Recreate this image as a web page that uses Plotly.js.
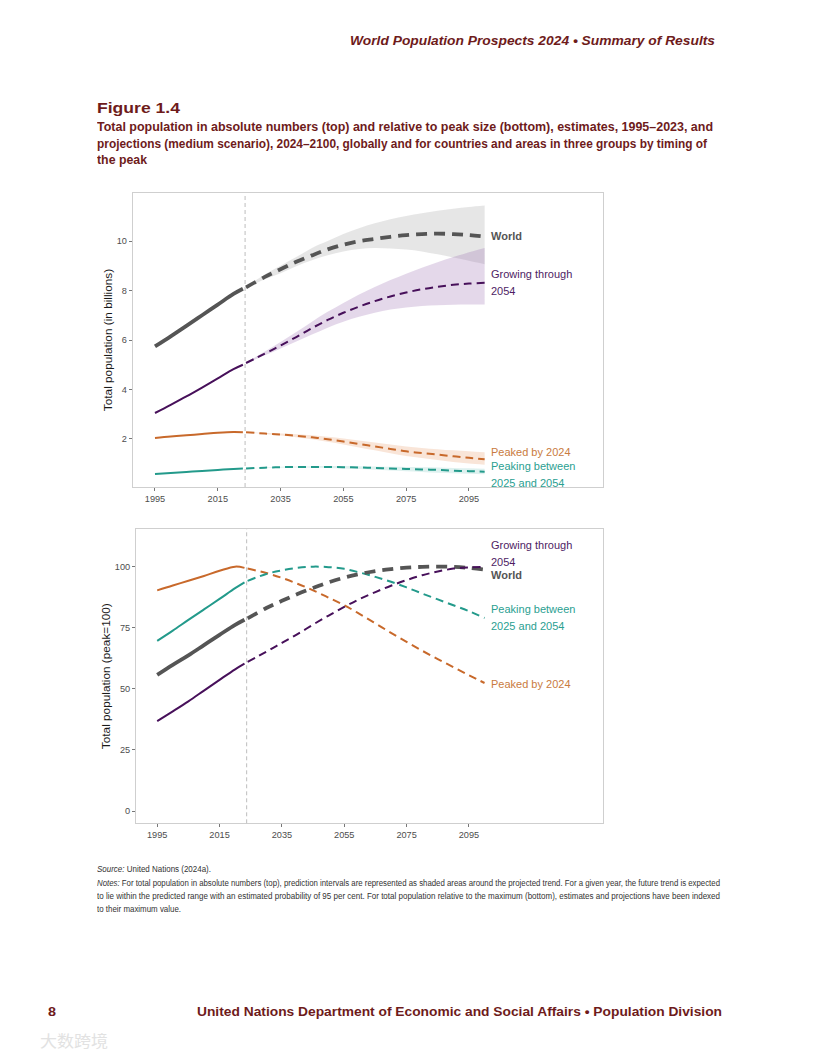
<!DOCTYPE html>
<html>
<head>
<meta charset="utf-8">
<script src="https://cdn.plot.ly/plotly-3.0.1.min.js"></script>
<style>
  html, body { margin: 0; padding: 0; background: #fff; }
  #page { position: relative; width: 816px; height: 1056px; overflow: hidden; }
  #chart { position: absolute; left: 0; top: 0; width: 816px; height: 1056px; }
  .ln { position: absolute; white-space: nowrap; transform-origin: 0 50%; font-family: "Liberation Sans", Arial, Helvetica, sans-serif; }
</style>
</head>
<body>
<div id="page">
  <div id="chart"></div>
</div>
<script>
// ---------------- DATA ----------------
const yearsEst  = [1995, 2000, 2005, 2010, 2015, 2020, 2023];
const yearsProj = [2024, 2030, 2035, 2040, 2045, 2050, 2055, 2060, 2065, 2070, 2075, 2080, 2085, 2090, 2095, 2100];

// Top panel: total population (billions)
const worldEst   = [5.74, 6.15, 6.57, 7.00, 7.43, 7.86, 8.07];
const worldProj  = [8.13, 8.55, 8.86, 9.16, 9.42, 9.66, 9.85, 9.99, 10.08, 10.17, 10.24, 10.28, 10.30, 10.28, 10.24, 10.18];
const worldLow   = [8.11, 8.45, 8.70, 8.98, 9.22, 9.42, 9.58, 9.68, 9.72, 9.70, 9.66, 9.58, 9.46, 9.33, 9.20, 9.06];
const worldHigh  = [8.15, 8.65, 9.00, 9.35, 9.72, 10.00, 10.28, 10.52, 10.72, 10.88, 11.01, 11.12, 11.22, 11.30, 11.37, 11.43];

const growEst    = [3.05, 3.38, 3.72, 4.08, 4.45, 4.82, 5.00];
const growProj   = [5.07, 5.45, 5.78, 6.12, 6.48, 6.81, 7.10, 7.35, 7.57, 7.76, 7.92, 8.05, 8.15, 8.23, 8.28, 8.31];
const growLow    = [5.05, 5.38, 5.66, 5.94, 6.22, 6.50, 6.74, 6.94, 7.10, 7.23, 7.31, 7.37, 7.40, 7.42, 7.43, 7.43];
const growHigh   = [5.09, 5.54, 5.92, 6.32, 6.74, 7.14, 7.50, 7.84, 8.14, 8.42, 8.68, 8.92, 9.14, 9.35, 9.55, 9.72];

const peakedEst  = [2.04, 2.10, 2.15, 2.20, 2.25, 2.28, 2.27];
const peakedProj = [2.27, 2.22, 2.18, 2.13, 2.07, 1.99, 1.90, 1.80, 1.70, 1.60, 1.50, 1.43, 1.37, 1.30, 1.24, 1.18];
const peakedLow  = [2.27, 2.20, 2.14, 2.07, 1.99, 1.89, 1.78, 1.66, 1.54, 1.42, 1.31, 1.23, 1.15, 1.07, 1.01, 0.96];
const peakedHigh = [2.28, 2.24, 2.22, 2.19, 2.15, 2.09, 2.02, 1.94, 1.86, 1.78, 1.70, 1.64, 1.59, 1.54, 1.50, 1.46];

const peakingEst  = [0.59, 0.63, 0.67, 0.71, 0.75, 0.79, 0.81];
const peakingProj = [0.81, 0.84, 0.86, 0.87, 0.87, 0.87, 0.86, 0.85, 0.83, 0.81, 0.79, 0.77, 0.75, 0.72, 0.70, 0.68];
const peakingLow  = [0.81, 0.83, 0.84, 0.85, 0.84, 0.83, 0.81, 0.79, 0.76, 0.73, 0.70, 0.67, 0.64, 0.62, 0.60, 0.58];
const peakingHigh = [0.81, 0.85, 0.88, 0.89, 0.90, 0.91, 0.91, 0.90, 0.89, 0.88, 0.87, 0.86, 0.85, 0.83, 0.82, 0.80];

// Bottom panel: relative to peak (peak = 100)
const worldIdxEst    = [55.7, 59.8, 63.7, 67.9, 72.1, 76.2, 78.3];
const worldIdxProj   = [78.8, 83.1, 86.0, 88.8, 91.3, 93.6, 95.5, 97.0, 98.2, 99.0, 99.6, 99.9, 100.0, 99.9, 99.5, 98.8];
const growIdxEst     = [36.8, 40.8, 44.9, 49.3, 53.7, 58.0, 60.3];
const growIdxProj    = [61.0, 65.2, 68.8, 72.4, 76.3, 80.0, 83.5, 86.8, 89.6, 92.2, 94.5, 96.5, 98.0, 99.2, 99.7, 99.9];
const peakedIdxEst   = [90.3, 92.3, 94.2, 96.2, 98.3, 100.0, 99.5];
const peakedIdxProj  = [99.2, 97.4, 95.4, 93.0, 90.3, 87.3, 84.2, 80.6, 76.8, 72.9, 69.2, 65.6, 62.2, 58.9, 55.6, 52.4];
const peakingIdxEst  = [69.6, 73.8, 78.2, 82.5, 86.8, 91.2, 93.6];
const peakingIdxProj = [94.2, 97.0, 98.5, 99.5, 100.0, 99.8, 99.1, 97.6, 95.8, 93.8, 91.5, 89.0, 86.6, 84.2, 81.8, 79.0];

const xTicks      = [1995, 2015, 2035, 2055, 2075, 2095];
const yTicksTop   = [2, 4, 6, 8, 10];
const yTicksBot   = [0, 25, 50, 75, 100];
const splitYear   = 2023.7;

// ---------------- STYLE ----------------
const C = {
  world:   '#555555',
  grow:    '#47105a',
  peaked:  '#c8692b',
  peaking: '#239a8b',
  worldLbl: '#555555', growLbl: '#4e1c64', peakedLbl: '#c97b40', peakingLbl: '#2aa091',
  worldBand: 'rgba(190,190,190,0.38)',
  growBand:  'rgba(150,105,175,0.26)',
  peakedBand:'rgba(232,150,100,0.25)',
  peakingBand:'rgba(60,170,160,0.17)'
};
const FONT = '"Liberation Sans", Arial, Helvetica, sans-serif';

// prediction interval: lower edge (no fill) followed by upper edge filled down to it
function band(xa, ya, low, high, color){
  const edge = {width: 0, color: 'rgba(0,0,0,0)', shape: 'spline', smoothing: 1};
  return [
    { x: yearsProj, y: low, xaxis: xa, yaxis: ya, type: 'scatter', mode: 'lines', line: edge, hoverinfo: 'skip', showlegend: false },
    { x: yearsProj, y: high, xaxis: xa, yaxis: ya, type: 'scatter', mode: 'lines', line: edge, fill: 'tonexty',
      fillcolor: color, hoverinfo: 'skip', showlegend: false }
  ];
}
function line(xa, ya, xs, ys, color, width, dash){
  return { x: xs, y: ys, xaxis: xa, yaxis: ya, type: 'scatter', mode: 'lines',
           line: {color: color, width: width, dash: dash, shape: 'spline', smoothing: 1}, showlegend: false, hoverinfo: 'skip' };
}

const traces = [].concat(
  band('x','y', worldLow, worldHigh, C.worldBand),
  band('x','y', growLow, growHigh, C.growBand),
  band('x','y', peakedLow, peakedHigh, C.peakedBand),
  band('x','y', peakingLow, peakingHigh, C.peakingBand),
  [
  line('x','y', yearsEst, peakingEst, C.peaking, 2, 'solid'),
  line('x','y', yearsProj, peakingProj, C.peaking, 2, '8px,5px'),
  line('x','y', yearsEst, peakedEst, C.peaked, 2, 'solid'),
  line('x','y', yearsProj, peakedProj, C.peaked, 2, '8px,5px'),
  line('x','y', yearsEst, growEst, C.grow, 2, 'solid'),
  line('x','y', yearsProj, growProj, C.grow, 2, '8px,5px'),
  line('x','y', yearsEst, worldEst, C.world, 3.8, 'solid'),
  line('x','y', yearsProj, worldProj, C.world, 3.8, '11px,7px'),

  line('x2','y2', yearsEst, peakedIdxEst, C.peaked, 2, 'solid'),
  line('x2','y2', yearsProj, peakedIdxProj, C.peaked, 2, '8px,5px'),
  line('x2','y2', yearsEst, peakingIdxEst, C.peaking, 2, 'solid'),
  line('x2','y2', yearsProj, peakingIdxProj, C.peaking, 2, '8px,5px'),
  line('x2','y2', yearsEst, worldIdxEst, C.world, 3.8, 'solid'),
  line('x2','y2', yearsProj, worldIdxProj, C.world, 3.8, '11px,7px'),
  line('x2','y2', yearsEst, growIdxEst, C.grow, 2, 'solid'),
  line('x2','y2', yearsProj, growIdxProj, C.grow, 2, '8px,5px')
  ]
);

const W = 816, H = 1056;
const px = v => v / W, py = v => 1 - v / H;

const axisCommon = {
  showgrid: false, zeroline: false, showline: true, mirror: true, linecolor: '#cfcfcf', linewidth: 1,
  ticks: 'outside', ticklen: 3, tickwidth: 0.8, tickcolor: '#555',
  tickfont: {family: FONT, size: 9.2, color: '#4d4d4d'}, fixedrange: true
};

function ann(xref, yref, x, y, text, color, bold){
  return { xref: xref, yref: yref, x: x, y: y, xanchor: 'left', yanchor: 'middle', showarrow: false,
           text: bold ? '<b>' + text + '</b>' : text, font: {family: FONT, size: 11, color: color} };
}

const layout = {
  width: W, height: H, margin: {l: 0, r: 0, t: 0, b: 0},
  paper_bgcolor: '#fff', plot_bgcolor: '#fff', showlegend: false,
  xaxis: Object.assign({}, axisCommon, {domain: [px(132.7), px(603)], range: [1987.9, 2137.7], tickvals: xTicks, anchor: 'y'}),
  yaxis: Object.assign({}, axisCommon, {domain: [py(487), py(193)], range: [0.06, 11.94], tickvals: yTicksTop, anchor: 'x',
          title: {text: 'Total population (in billions)', font: {family: FONT, size: 11.8, color: '#1a1a1a'}, standoff: 1}}),
  xaxis2: Object.assign({}, axisCommon, {domain: [px(136), px(602.7)], range: [1988.2, 2137.9], tickvals: xTicks, anchor: 'y2'}),
  yaxis2: Object.assign({}, axisCommon, {domain: [py(823.3), py(529)], range: [-5.0, 115.4], tickvals: yTicksBot, anchor: 'x2',
          title: {text: 'Total population (peak=100)', font: {family: FONT, size: 11.8, color: '#1a1a1a'}, standoff: 1}}),
  shapes: [
    {type: 'line', xref: 'x', yref: 'y domain', x0: splitYear, x1: splitYear, y0: 0, y1: 1, line: {color: '#bdbdbd', width: 1, dash: '4px,3px'}},
    {type: 'line', xref: 'x2', yref: 'y2 domain', x0: splitYear, x1: splitYear, y0: 0, y1: 1, line: {color: '#bdbdbd', width: 1, dash: '4px,3px'}}
  ],
  annotations: [
    ann('x','y', 2101.5, 10.19, 'World', C.worldLbl, true),
    ann('x','y', 2101.5, 8.65, 'Growing through', C.growLbl),
    ann('x','y', 2101.5, 7.96, '2054', C.growLbl),
    ann('x','y', 2101.5, 1.49, 'Peaked by 2024', C.peakedLbl),
    ann('x','y', 2101.5, 0.92, 'Peaking between', C.peakingLbl),
    ann('x','y', 2101.5, 0.24, '2025 and 2054', C.peakingLbl),

    ann('x2','y2', 2101.5, 108.9, 'Growing through', C.growLbl),
    ann('x2','y2', 2101.5, 101.9, '2054', C.growLbl),
    ann('x2','y2', 2101.5, 96.6, 'World', C.worldLbl, true),
    ann('x2','y2', 2101.5, 82.7, 'Peaking between', C.peakingLbl),
    ann('x2','y2', 2101.5, 75.7, '2025 and 2054', C.peakingLbl),
    ann('x2','y2', 2101.5, 52.0, 'Peaked by 2024', C.peakedLbl)
  ]
};

Plotly.newPlot('chart', traces, layout, {displayModeBar: false, staticPlot: true});

// ---------------- PAGE TEXT ----------------
const RED = '#6e1b1b';
const textLines = [
  {t: 'World Population Prospects 2024 \u2022 Summary of Results', x: 350, y: 41, w: 365, s: 13, b: 700, i: true, c: RED},
  {t: 'Figure 1.4', x: 97, y: 108, w: 83, s: 15, b: 700, c: RED},
  {t: 'Total population in absolute numbers (top) and relative to peak size (bottom), estimates, 1995\u20132023, and', x: 97, y: 127, w: 616, s: 13.2, b: 700, c: RED},
  {t: 'projections (medium scenario), 2024\u20132100, globally and for countries and areas in three groups by timing of', x: 97, y: 144, w: 610, s: 13.2, b: 700, c: RED},
  {t: 'the peak', x: 97, y: 160, w: 50, s: 13.2, b: 700, c: RED},
  {t: '<i>Source:</i> United Nations (2024a).', x: 97, y: 869, w: 114, s: 9.6, b: 400, c: '#333'},
  {t: '<i>Notes:</i> For total population in absolute numbers (top), prediction intervals are represented as shaded areas around the projected trend. For a given year, the future trend is expected', x: 97, y: 883, w: 623, s: 9.6, b: 400, c: '#333'},
  {t: 'to lie within the predicted range with an estimated probability of 95 per cent. For total population relative to the maximum (bottom), estimates and projections have been indexed', x: 97, y: 896, w: 623, s: 9.6, b: 400, c: '#333'},
  {t: 'to their maximum value.', x: 97, y: 909, w: 84, s: 9.6, b: 400, c: '#333'},
  {t: '8', x: 48, y: 1012, w: 8, s: 13, b: 700, c: RED},
  {t: 'United Nations Department of Economic and Social Affairs \u2022 Population Division', x: 197, y: 1012, w: 525, s: 13, b: 700, c: RED},
  {t: '大数跨境', x: 40, y: 1041, w: 68, s: 16, b: 400, c: '#e2e2e2', f: '"Noto Sans CJK SC", sans-serif'}
];
const page = document.getElementById('page');
textLines.forEach(L => {
  const d = document.createElement('div');
  d.className = 'ln';
  d.innerHTML = L.t;
  d.style.fontSize = L.s + 'px';
  d.style.lineHeight = (L.s * 1.2) + 'px';
  d.style.fontWeight = L.b;
  d.style.fontStyle = L.i ? 'italic' : 'normal';
  d.style.color = L.c;
  if (L.f) d.style.fontFamily = L.f;
  d.style.left = L.x + 'px';
  d.style.top = (L.y - L.s * 0.6) + 'px';
  page.appendChild(d);
  const wNow = d.getBoundingClientRect().width;
  if (wNow > 0) d.style.transform = 'scaleX(' + (L.w / wNow).toFixed(4) + ')';
});
</script>
</body>
</html>
